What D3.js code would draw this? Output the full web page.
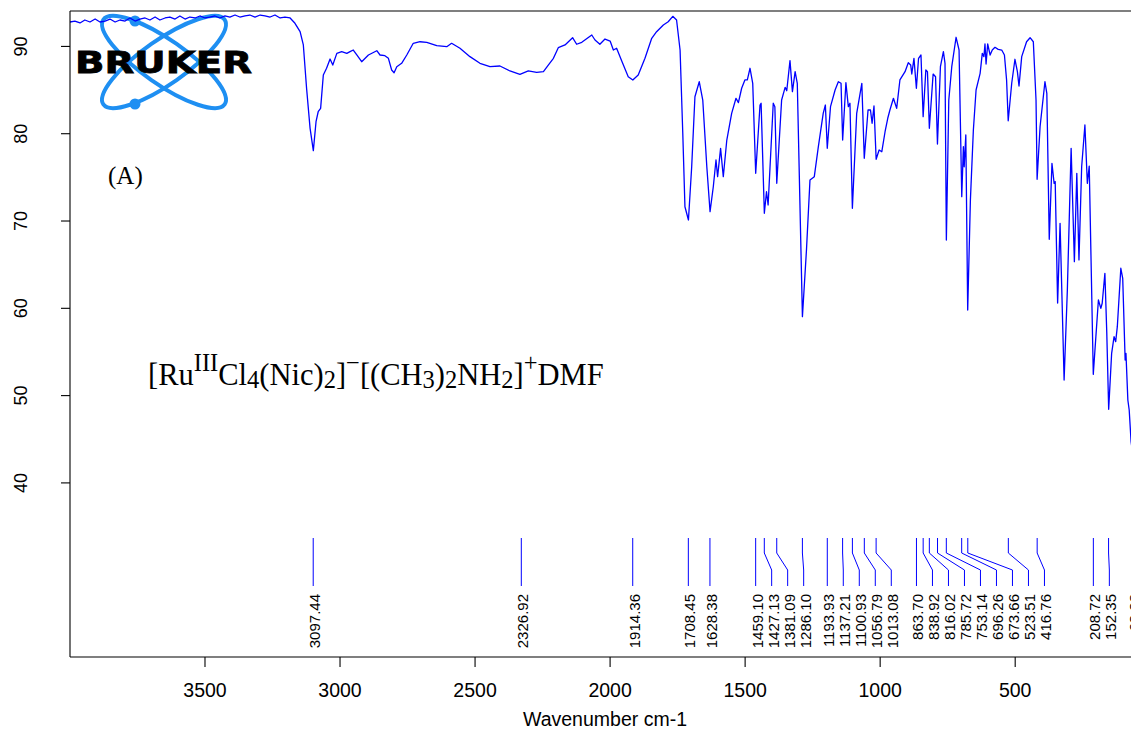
<!DOCTYPE html>
<html><head><meta charset="utf-8">
<script src="https://cdn.jsdelivr.net/npm/d3@7"></script>
<style>html,body{margin:0;padding:0;background:#fff;overflow:hidden}</style>
</head><body><svg id="c" width="1131" height="733"></svg>
<script>
// ---- data: wavenumber (cm-1), transmittance (%) ----
const specBaseline = [[3998,92.74],[3980,92.85],[3961,92.63],[3943,92.97],[3924,92.74],[3905,93.08],[3887,92.74],[3868,92.85],[3850,93.08],[3831,92.74],[3813,92.97],[3794,92.85],[3776,93.2],[3757,92.85],[3739,93.08],[3720,93.2],[3702,92.97],[3683,93.31],[3665,92.97],[3646,93.2],[3628,93.31],[3609,93.08],[3591,93.43],[3572,93.08],[3554,93.31],[3535,93.2],[3517,93.43],[3498,93.2],[3480,93.31],[3461,93.43],[3443,93.2],[3424,93.43],[3406,93.31],[3387,93.54],[3369,93.31],[3350,93.43],[3332,93.54],[3313,93.31],[3294,93.54],[3276,93.43],[3257,93.31],[3239,93.54],[3220,93.2],[3202,93.31],[3183,93.2]];
const specHigh = [[3165,92.59],[3146,91.63],[3134,90.11],[3122,85.15],[3109,80.56],[3097,78.0],[3087,81.32],[3079,82.46],[3070,82.85],[3060,86.67],[3048,87.44],[3035,88.5],[3025,87.81],[3010,89.15],[2992,89.34],[2973,89.15],[2961,89.34],[2949,89.53],[2936,88.96],[2918,88.19],[2893,88.96],[2862,89.45],[2850,88.96],[2832,88.88],[2819,88.58],[2807,87.24],[2798,86.93],[2788,87.62],[2770,88.01],[2751,88.96],[2727,90.3],[2702,90.48],[2677,90.41],[2640,90.03],[2603,89.91],[2585,90.3],[2554,89.73],[2517,88.77],[2480,88.01],[2443,87.62],[2406,87.7],[2369,87.13],[2332,86.75],[2301,87.13],[2270,86.98],[2245,87.05],[2227,87.81],[2208,88.58],[2190,89.8],[2165,90.11],[2137,90.94],[2122,90.19],[2103,90.41],[2066,91.25],[2054,90.68],[2036,90.19],[2017,90.79],[1998,90.56],[1986,89.53],[1974,89.73],[1955,88.27],[1931,86.47],[1914,86.1],[1894,86.67],[1869,88.58],[1844,90.87],[1826,91.63],[1801,92.4],[1783,92.77],[1766,93.39],[1752,92.97]];
const specMid = [[1739,89.53],[1729,79.99],[1721,71.58],[1708,70.06],[1696,76.16],[1684,84.18],[1668,85.9],[1655,83.8],[1640,76.16],[1628,71.01],[1616,73.87],[1606,76.93],[1600,75.02],[1589,78.27],[1579,75.02],[1566,79.22],[1548,82.28],[1532,84.0],[1523,83.5],[1511,85.15],[1499,86.1],[1490,86.1],[1480,87.44],[1470,85.72],[1459,75.41],[1443,83.23],[1439,83.43],[1427,70.83],[1419,73.3],[1413,71.78],[1394,83.43],[1388,83.04],[1381,74.26],[1363,83.8],[1350,85.26],[1344,84.87],[1332,88.31],[1323,84.76],[1313,87.05],[1305,85.72],[1286,58.98],[1271,66.62],[1258,74.64],[1242,75.02],[1227,78.46],[1209,82.28],[1201,83.23],[1194,78.27],[1182,83.04],[1165,84.95],[1153,85.9],[1143,85.72],[1137,79.22],[1125,85.79],[1116,83.04],[1110,83.43],[1101,71.4],[1085,82.28],[1066,85.72],[1057,77.13],[1043,82.66],[1034,82.66],[1028,81.14],[1021,83.12],[1013,77.01],[1002,78.08]];
const specLow = [[992,77.88],[980,80.17],[970,81.71],[962,82.66],[949,84.0],[937,82.85],[925,86.1],[906,87.05],[894,88.08],[885,87.81],[881,86.78],[873,88.58],[864,85.15],[856,88.58],[847,88.96],[839,81.89],[829,87.24],[823,87.05],[816,80.56],[802,86.78],[793,86.47],[786,78.76],[775,87.62],[764,89.34],[758,88.01],[753,67.77],[744,83.8],[733,87.62],[717,90.99],[706,89.53],[696,72.73],[690,78.46],[687,76.16],[681,79.8],[674,59.75],[664,72.35],[653,80.37],[643,84.95],[628,86.86],[620,89.15],[614,88.77],[610,90.22],[606,87.93],[600,90.22],[591,88.96],[583,89.53],[573,89.84],[561,89.61],[548,89.53],[538,88.96],[530,86.1],[524,81.43],[511,85.72],[499,88.47],[490,87.05],[484,85.41],[474,88.77],[456,90.48],[443,90.94],[431,90.48],[421,83.8],[417,74.72],[406,80.75],[388,85.9],[381,84.57],[372,67.85],[362,76.55],[354,74.26],[350,74.45],[341,60.55],[332,69.68],[317,51.73],[305,62.04],[291,78.27],[279,65.28],[270,75.41],[262,65.48],[252,76.16],[240,80.94],[231,74.26],[224,76.24],[209,52.38],[190,60.9],[181,59.94],[176,60.52],[166,63.95],[159,57.11],[152,48.37],[141,54.79],[132,56.69],[126,56.12],[120,57.84],[107,64.53],[100,63.38],[91,54.02],[88,54.79],[81,49.44],[76,48.29],[69,44.66],[54,41.42]];
const peakValues = [3097.44,2326.92,1914.36,1708.45,1628.38,1459.10,1427.13,1381.09,1286.10,1193.93,1137.21,1100.93,1056.79,1013.08,863.70,838.92,816.02,785.72,753.14,696.26,673.66,523.51,416.76,208.72,152.35,63.38];
const xTicks = [3500,3000,2500,2000,1500,1000,500];
const yTicks = [40,50,60,70,80,90];
const xTitle = "Wavenumber cm-1";
const panelLabel = "(A)";

// ---- layout ----
const svg = d3.select("#c");
const L=70, T=11, R=1140, B=657;
const x = d3.scaleLinear().domain([3998,36]).range([L,R]);
const y = d3.scaleLinear().domain([20,94]).range([B,T]);
const sans = "'Liberation Sans', Arial, sans-serif";
const serif = "'Liberation Serif', 'Times New Roman', serif";

svg.append("defs").append("clipPath").attr("id","pc")
  .append("rect").attr("x",L).attr("y",T).attr("width",R-L).attr("height",B-T);

// logo
const logo = svg.append("g").attr("transform","translate(164,62)");
const blue = "#1e8ff2";
[35,-35].forEach(a=>{
  logo.append("ellipse").attr("rx",74).attr("ry",22).attr("transform",`rotate(${a})`)
    .attr("fill","none").attr("stroke",blue).attr("stroke-width",4);
});
logo.append("circle").attr("cx",-29).attr("cy",-41).attr("r",5.5).attr("fill",blue);
logo.append("circle").attr("cx",-29).attr("cy",42).attr("r",5.5).attr("fill",blue);
svg.append("text").attr("x",75).attr("y",73).attr("font-family","'DejaVu Sans', sans-serif")
  .attr("font-weight","bold").attr("font-size",30).attr("textLength",177)
  .attr("lengthAdjust","spacingAndGlyphs").attr("fill","#000")
  .attr("stroke","#000").attr("stroke-width",0.8).text("BRUKER");

// spectrum
const spectrum = specBaseline.concat(specHigh, specMid, specLow);
svg.append("path").datum(spectrum).attr("clip-path","url(#pc)")
  .attr("fill","none").attr("stroke","#0000ff").attr("stroke-width",1.3)
  .attr("stroke-linejoin","round")
  .attr("d", d3.line().x(d=>x(d[0])).y(d=>y(d[1])));

// frame
const frame = svg.append("g").attr("stroke","#000").attr("stroke-width",1.1).attr("fill","none");
frame.append("line").attr("x1",L).attr("x2",R).attr("y1",T).attr("y2",T);
frame.append("line").attr("x1",L).attr("x2",R).attr("y1",B).attr("y2",B);
frame.append("line").attr("x1",L).attr("x2",L).attr("y1",T).attr("y2",B);

// x axis
const gx = svg.append("g").attr("transform",`translate(0,${B})`)
  .call(d3.axisBottom(x).tickValues(xTicks).tickSize(10).tickFormat(d3.format("d")));
gx.select(".domain").remove();
gx.selectAll(".tick line").attr("stroke","#000").attr("stroke-width",1.1);
gx.selectAll(".tick text").attr("y",40).attr("dy",0).attr("font-size",19.5)
  .attr("font-family",sans).attr("fill","#000");

// y axis
const gy = svg.append("g").attr("transform",`translate(${L},0)`)
  .call(d3.axisLeft(y).tickValues(yTicks).tickSize(9));
gy.select(".domain").remove();
gy.selectAll(".tick line").attr("stroke","#000").attr("stroke-width",1.1);
gy.selectAll(".tick text").attr("transform","rotate(-90)").attr("x",0).attr("y",-42.7)
  .attr("dy",0).attr("text-anchor","middle").attr("font-size",18)
  .attr("font-family",sans).attr("fill","#000");

svg.append("text").attr("x",(L+R)/2).attr("y",726).attr("text-anchor","middle")
  .attr("font-family",sans).attr("font-size",19.5).attr("fill","#000").text(xTitle);

// peak labels
const peaks = peakValues.map(v=>({v, px:x(v)})).sort((a,b)=>a.px-b.px);
let last=-1e9;
peaks.forEach(p=>{ p.lx = Math.max(p.px, last+16); last=p.lx; });
const pg = svg.append("g");
pg.selectAll("path").data(peaks).join("path")
  .attr("fill","none").attr("stroke","#0000ff").attr("stroke-width",1)
  .attr("d",p=>`M${p.px},538V553L${p.lx},570V586`);
pg.selectAll("text").data(peaks).join("text")
  .attr("transform",p=>`translate(${p.lx+7},594) rotate(-90)`)
  .attr("text-anchor","end").attr("font-family",sans).attr("font-size",15)
  .attr("fill","#000").text(p=>p.v.toFixed(2));

// panel label and formula
svg.append("text").attr("x",108).attr("y",184).attr("font-family",serif)
  .attr("font-size",25).attr("fill","#000").text(panelLabel);

const formulaParts = [["[Ru",0],["III",-14],["Cl",0],["4",3],["(Nic)",0],["2",3],["]",0],["\u2212",-14],
  ["[(CH",0],["3",3],[")",0],["2",3],["NH",0],["2",3],["]",0],["+",-14],["DMF",0]];
const ft = svg.append("text").attr("x",148).attr("y",385).attr("font-family",serif)
  .attr("font-size",30.5).attr("fill","#000");
let cur=0;
formulaParts.forEach(([s,off])=>{
  ft.append("tspan").attr("dy",off-cur).attr("font-size",off===0?30.5:24.5).text(s);
  cur=off;
});
</script></body></html>
